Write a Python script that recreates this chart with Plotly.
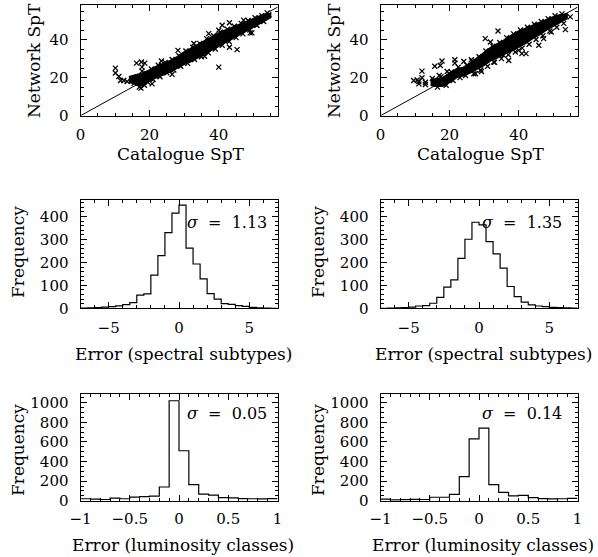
import plotly.graph_objects as go

# ---------------- data ----------------
# Top panels: Network SpT vs Catalogue SpT
# dense core of each cloud (upper / lower envelope), plus individual points
net1_core_x = [14, 16, 18, 20, 22, 24, 26, 28, 30, 32, 34, 36, 38, 40, 42, 44, 46, 48, 50, 52, 54, 55]
net1_core_upper = [20.5, 21.5, 22.5, 24, 26, 27.5, 29, 31, 33.5, 35.5, 37.5, 39.5, 41.5, 43.5, 45, 46.5, 48, 49.5, 51, 52.5, 53.5, 53.5]
net1_core_lower = [17.5, 16.5, 15.5, 18.5, 20, 21.5, 23, 25, 27, 28.5, 30.5, 32.5, 34.5, 36.5, 38.5, 40.5, 42.5, 44.5, 46.5, 48.5, 50.5, 51.5]
net1_pts_x = [10.1, 10.1, 11.1, 11.6, 12.5, 13.5, 16.2, 17.6, 18.6, 17.8, 17.8, 20.7, 23.4, 26.5, 28.2, 35.9,
              40.0, 41.0, 43.1, 45.3, 43.1, 47.2, 49.1, 49.6, 41.0, 37.1, 40.0, 51.0, 29.4, 32.8,
              15, 15.5, 16.5, 17, 17.5, 18.5, 19, 19.5, 20.5, 21, 22.5, 23, 24.5, 25, 26.5, 27, 28.5, 29,
              30.5, 31, 32.5, 33, 34.5, 35, 36.5, 37, 38.5, 39, 40.5, 41, 42.5, 43, 44.5, 45, 46.5, 47,
              48.5, 49, 50.5, 51, 52.5, 53, 54.5, 53.5, 54]
net1_pts_y = [25.0, 22.4, 20.6, 18.5, 18.5, 18.0, 27.6, 28.2, 27.6, 25.5, 23.4, 16.7, 28.7, 21.7, 34.3, 31.2,
              25.5, 47.5, 48.8, 34.7, 36.0, 50.2, 43.5, 43.5, 41.4, 43.1, 44.9, 47.5, 29.0, 37.9,
              19, 17, 20.5, 15, 14.5, 16, 22, 17.5, 24.5, 19, 26.5, 20.5, 28, 22.5, 29.5, 24, 31.5, 26,
              34, 27.5, 36, 29.5, 38, 31, 40.5, 33, 42, 35, 44, 37, 45.5, 39, 47, 41, 48.5, 43,
              50, 45, 51.5, 47.5, 52.5, 49.5, 53, 52.5, 54]

net2_core_x = [14.5, 16, 18, 20, 22, 24, 26, 28, 30, 32, 34, 36, 38, 40, 42, 44, 46, 48, 50, 52, 54]
net2_core_upper = [19, 19.5, 20, 22.5, 24.5, 25.5, 27.5, 30.5, 33.5, 36, 38, 40, 42.5, 44.5, 46, 47.5, 49, 50.5, 52, 53, 53.5]
net2_core_lower = [16, 15.5, 15.5, 17.5, 20, 21, 22.5, 24.5, 26.5, 29, 30.5, 32.5, 34, 36, 38, 40.5, 42.5, 45, 47, 49, 51]
net2_pts_x = [9.6, 10.6, 11.1, 12.0, 12.0, 13.0, 13.0, 11.1, 15.7, 17.3, 17.8, 17.0, 19.3, 21.5, 21.5, 24.1,
              26.3, 29.2, 27.5, 24.6, 34.0, 30.3, 31.8, 32.8, 37.1, 40.9, 42.1, 45.8, 47.2, 49.4, 53.5, 54.9,
              35.6, 40.0,
              15, 16.5, 17.5, 19, 20.5, 21, 22.5, 23, 25, 26.5, 27, 28.5, 29, 30.5, 31, 32.5, 33, 34.5, 35,
              36.5, 37, 38.5, 39, 40.5, 41, 42.5, 43, 44.5, 45, 46.5, 47, 48.5, 49, 50.5, 51, 52.5, 53]
net2_pts_y = [18.5, 18.8, 16.7, 23.4, 19.9, 17.6, 16.4, 18.0, 26.0, 26.4, 28.7, 21.1, 23.2, 29.4, 27.6, 28.5,
              29.4, 23.2, 22.0, 21.1, 44.5, 40.5, 38.7, 28.2, 29.0, 32.6, 32.6, 37.0, 40.5, 44.0, 45.2, 51.9,
              31.7, 34.3,
              19.5, 15, 20.5, 16, 23, 18.5, 25.5, 20, 26.5, 28.5, 22, 31, 24, 34, 26, 36.5, 28, 38.5, 30,
              41, 32, 43, 33.5, 45, 35.5, 46.5, 37.5, 48, 40, 49.5, 42, 51, 44.5, 52.5, 46.5, 53.5, 48.5]

one_to_one = [0, 60]

# Middle panels: error in spectral subtypes (bin edges, counts)
spt_edges = [-7.0, -6.5, -6.0, -5.5, -5.0, -4.5, -4.0, -3.5, -3.0, -2.5, -2.0, -1.5, -1.0, -0.5,
             0.0, 0.5, 1.0, 1.5, 2.0, 2.5, 3.0, 3.5, 4.0, 4.5, 5.0, 5.5, 6.0, 6.5, 7.0]
spt_counts_1 = [1, 2, 3, 5, 7, 11, 16, 25, 57, 63, 145, 230, 330, 415, 450, 262, 193, 128, 64, 40, 20, 17, 12, 8, 4, 2, 1, 0]
spt_counts_2 = [0, 1, 2, 3, 5, 10, 12, 22, 48, 92, 124, 218, 301, 375, 364, 291, 237, 175, 95, 51, 27, 15, 10, 7, 4, 3, 2, 1]

# Bottom panels: error in luminosity classes
lum_edges = [-1.0, -0.9, -0.8, -0.7, -0.6, -0.5, -0.4, -0.3, -0.2, -0.1, 0.0,
             0.1, 0.2, 0.3, 0.4, 0.5, 0.6, 0.7, 0.8, 0.9, 1.0]
lum_counts_1 = [20, 17, 12, 27, 20, 37, 42, 46, 140, 1020, 510, 165, 68, 56, 32, 28, 22, 20, 18, 22]
lum_counts_2 = [17, 8, 10, 14, 12, 35, 35, 65, 245, 630, 740, 165, 85, 50, 55, 32, 22, 18, 20, 24]

sigma_labels = ["1.13", "1.35", "0.05", "0.14"]

# ---------------- figure ----------------
W, H = 598, 557
FONT = "DejaVu Serif"


def px(x):
    return x / W


def py(y):
    return 1 - y / H


fig = go.Figure()

xdom = {"L": [px(80.5), px(277.5)], "R": [px(380.5), px(577.5)]}
ydom = {"T": [py(115.7), py(5.3)], "M": [py(308.3), py(200)], "B": [py(500.7), py(393.5)]}


def axis(domain, anchor, rng, dtick, minor_dtick, standoff):
    return dict(domain=domain, anchor=anchor, range=rng, dtick=dtick, tick0=0,
                automargin=False,
                showline=True, linecolor="black", linewidth=1, mirror="allticks",
                ticks="inside", ticklen=6, tickwidth=1, tickcolor="black",
                minor=dict(dtick=minor_dtick, tick0=0, ticks="inside", ticklen=3, tickcolor="black", tickwidth=1),
                showgrid=False, zeroline=False, ticklabelstandoff=standoff,
                tickfont=dict(family=FONT, size=15, color="black"))


panels = [
    ("L", "T"), ("R", "T"), ("L", "M"), ("R", "M"), ("L", "B"), ("R", "B")
]
ranges = {"T": ([0, 57], [0, 58], 20, 5, 20, 5, 5),
          "M": ([-7, 7], [0, 472], 5, 1, 100, 20, 6),
          "B": ([-1, 1], [0, 1094], 0.5, 0.1, 200, 50, 4)}

for i, (c, r) in enumerate(panels, start=1):
    xr, yr, xd, xm, yd, ym, so = ranges[r]
    fig.layout["xaxis%d" % i] = axis(xdom[c], "y%d" % i, xr, xd, xm, so)
    fig.layout["yaxis%d" % i] = axis(ydom[r], "x%d" % i, yr, yd, ym, 8)

# scatter panels
for i, (cx, cu, cl, sx, sy) in enumerate([
        (net1_core_x, net1_core_upper, net1_core_lower, net1_pts_x, net1_pts_y),
        (net2_core_x, net2_core_upper, net2_core_lower, net2_pts_x, net2_pts_y)], start=1):
    xa, ya = "x%d" % i, "y%d" % i
    fig.add_trace(go.Scatter(x=one_to_one, y=one_to_one, mode="lines",
                             line=dict(color="black", width=1), xaxis=xa, yaxis=ya))
    fig.add_trace(go.Scatter(x=cx + cx[::-1], y=cu + cl[::-1], mode="lines", fill="toself",
                             fillcolor="black", line=dict(color="black", width=1.5),
                             xaxis=xa, yaxis=ya))
    fig.add_trace(go.Scatter(x=sx, y=sy, mode="markers",
                             marker=dict(symbol="x-thin", size=5, color="black",
                                         line=dict(color="black", width=1.3)),
                             xaxis=xa, yaxis=ya))

# histograms (step outlines)
for i, (edges, counts) in enumerate([(spt_edges, spt_counts_1), (spt_edges, spt_counts_2),
                                      (lum_edges, lum_counts_1), (lum_edges, lum_counts_2)], start=3):
    fig.add_trace(go.Scatter(x=edges, y=counts + [counts[-1]], mode="lines", line_shape="hv",
                             line=dict(color="black", width=1.2),
                             xaxis="x%d" % i, yaxis="y%d" % i))

ann = []


def label(text, x, y, angle=0, size=17, xanchor="center"):
    ann.append(dict(text=text, x=px(x), y=py(y), xref="paper", yref="paper", showarrow=False,
                    textangle=angle, xanchor=xanchor, yanchor="middle",
                    font=dict(family=FONT, size=size, color="black")))


for dx in (0, 300):
    label("Catalogue SpT", 181 + dx, 154)
    label("Network SpT", 34 + dx, 61, angle=-90)
    label("Error (spectral subtypes)", 183 + dx, 354)
    label("Frequency", 18 + dx, 252, angle=-90)
    label("Error (luminosity classes)", 183 + dx, 545)
    label("Frequency", 18 + dx, 450, angle=-90)

label("<i>σ</i>  =  " + sigma_labels[0], 269, 222, size=16, xanchor="right")
label("<i>σ</i>  =  " + sigma_labels[1], 564, 222, size=16, xanchor="right")
label("<i>σ</i>  =  " + sigma_labels[2], 269, 413, size=16, xanchor="right")
label("<i>σ</i>  =  " + sigma_labels[3], 564, 413, size=16, xanchor="right")

fig.update_layout(width=W, height=H, margin=dict(l=0, r=0, t=0, b=0, autoexpand=False),
                  paper_bgcolor="white", plot_bgcolor="white", showlegend=False,
                  annotations=ann)

fig.write_html("out.html", config={"displayModeBar": False},
               post_script="document.body.style.margin='0';document.body.style.overflow='hidden';")
